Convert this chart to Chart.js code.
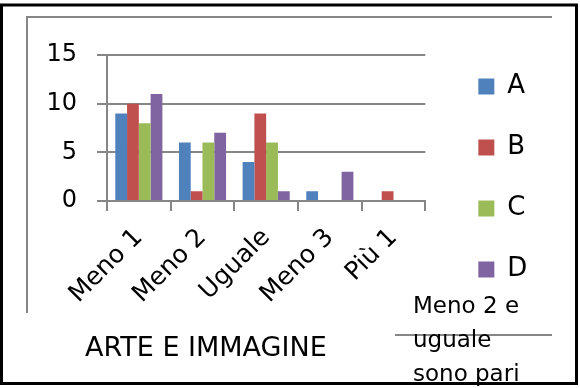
<!DOCTYPE html>
<html>
<head>
<meta charset="utf-8">
<script src="https://cdn.jsdelivr.net/npm/chart.js@4.4.0/dist/chart.umd.min.js"></script>
<style>
  html, body { margin: 0; padding: 0; background: #fff; }
  #wrap { width: 580px; height: 388px; }
</style>
</head>
<body>
<div id="wrap"><canvas id="artChart" width="580" height="388"></canvas></div>
<script>
const categories = ["Meno 1", "Meno 2", "Uguale", "Meno 3", "Più 1"];
const seriesA = [9, 6, 4, 1, 0];
const seriesB = [10, 1, 9, 0, 1];
const seriesC = [8, 6, 6, 0, 0];
const seriesD = [11, 7, 1, 3, 0];
const yTicks = [0, 5, 10, 15];
const chartTitle = "ARTE E IMMAGINE";
const noteLines = ["Meno 2 e", "uguale", "sono pari"];

const gray = "#868686";
Chart.defaults.font.family = "'DejaVu Sans', sans-serif";

// border, frame lines and the free text boxes
const frame = {
  id: "frame",
  beforeDraw(chart) {
    const ctx = chart.ctx;
    ctx.save();
    ctx.fillStyle = "#fff";
    ctx.fillRect(0, 0, chart.width, chart.height);
    ctx.restore();
  },
  afterDraw(chart) {
    const ctx = chart.ctx;
    ctx.save();
    ctx.strokeStyle = gray;
    ctx.lineWidth = 2;
    ctx.beginPath();
    ctx.moveTo(27, 313);
    ctx.lineTo(27, 17);
    ctx.lineTo(552, 17);
    ctx.moveTo(395, 335);
    ctx.lineTo(552, 335);
    ctx.stroke();

    ctx.fillStyle = "#000";
    ctx.textBaseline = "alphabetic";
    ctx.font = "27px 'DejaVu Sans'";
    ctx.fillText(chartTitle, 85, 356);
    ctx.font = "23px 'DejaVu Sans'";
    noteLines.forEach((t, i) => ctx.fillText(t, 413, 313 + i * 34));

    ctx.strokeStyle = "#000";
    ctx.lineWidth = 3;
    ctx.strokeRect(1.5, 5, 575, 378.5);
    ctx.restore();
  }
};

new Chart(document.getElementById("artChart"), {
  type: "bar",
  data: {
    labels: categories,
    datasets: [
      { label: "A", data: seriesA, backgroundColor: "#4F81BD" },
      { label: "B", data: seriesB, backgroundColor: "#C0504D" },
      { label: "C", data: seriesC, backgroundColor: "#9BBB59" },
      { label: "D", data: seriesD, backgroundColor: "#8064A2" }
    ].map(d => Object.assign(d, { xAxisID: "x", yAxisID: "y", borderWidth: 0, barPercentage: 1, categoryPercentage: 0.74 }))
  },
  options: {
    responsive: false,
    animation: false,
    devicePixelRatio: 1,
    layout: { padding: { top: 0, right: 48, bottom: 32, left: 0 } },
    plugins: {
      tooltip: { enabled: false },
      title: { display: false },
      legend: {
        position: "right",
        align: "center",
        labels: { boxWidth: 16, boxHeight: 16, padding: 35, color: "#000", font: { size: 26 } }
      }
    },
    scales: {
      x: {
        grid: { drawOnChartArea: false, drawTicks: true, tickLength: 10, color: gray, lineWidth: 2, offset: true },
        border: { display: true, color: gray, width: 2 },
        ticks: { color: "#000", font: { size: 25 }, minRotation: 45, maxRotation: 45, padding: 12 },
        afterFit: s => { s.height = 155; }
      },
      y: {
        min: 0,
        max: 15,
        afterBuildTicks: s => { s.ticks = yTicks.map(v => ({ value: v })); },
        grid: { color: gray, lineWidth: 2, tickLength: 10 },
        border: { display: true, color: gray, width: 2 },
        ticks: { color: "#000", font: { size: 24 }, padding: 20 },
        afterFit: s => { s.width = 107; }
      },
      xTop: {
        type: "category",
        position: "top",
        grid: { display: false },
        ticks: { display: false },
        border: { display: false },
        afterFit: s => { s.height = 55; }
      },
      yRight: {
        type: "linear",
        position: "right",
        grid: { display: false },
        ticks: { display: false },
        border: { display: false },
        afterFit: s => { s.width = 18; }
      }
    }
  },
  plugins: [frame]
});
</script>
</body>
</html>
